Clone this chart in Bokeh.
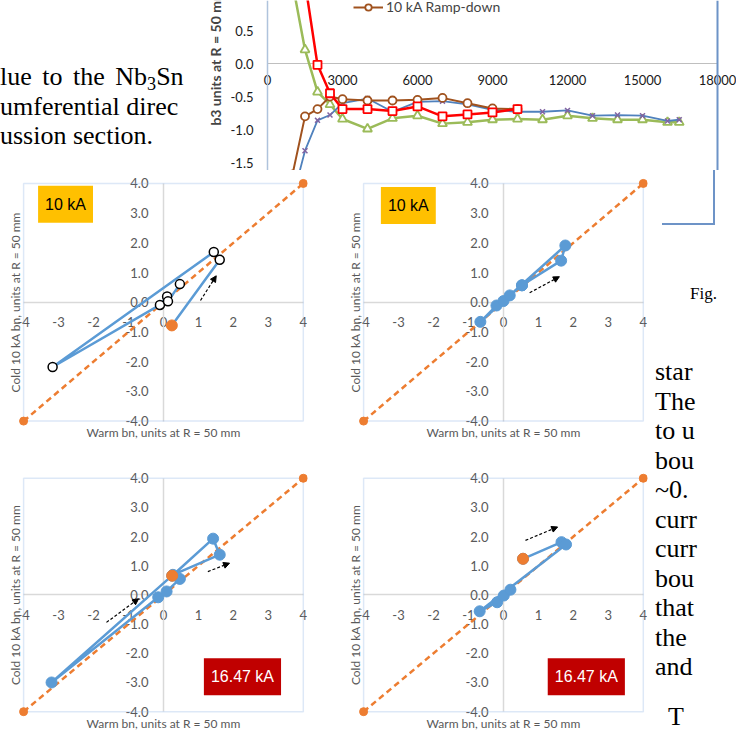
from math import pi
from bokeh.plotting import figure
from bokeh.models import (Range1d, FixedTicker, PrintfTickFormatter, Label, Legend,
                          LegendItem, Arrow, NormalHead, Div, Span, BoxAnnotation)
from bokeh.layouts import row, column
from bokeh.embed import file_html
from bokeh.resources import INLINE

# ---------------- top chart (b3 vs current) ----------------
top_x_ticks = [0, 3000, 6000, 9000, 12000, 15000, 18000]
top_y_ticks = [-1.5, -1.0, -0.5, 0.0, 0.5]
cur_a = [1000, 1500, 2000, 2500, 3000, 4000, 5000, 6000, 7000, 8000, 9000, 10000,
         11000, 12000, 13000, 14000, 15000, 16000, 16470]
b3_up_1647 = [-2.05, -1.32, -0.86, -0.78, -0.60, -0.53, -0.73, -0.58, -0.57, -0.62, -0.70,
              -0.73, -0.73, -0.71, -0.79, -0.78, -0.79, -0.87, -0.85]
b3_dn_1647 = [1.22, 0.21, -0.43, -0.62, -0.84, -0.99, -0.83, -0.79, -0.91, -0.89, -0.85,
              -0.84, -0.85, -0.79, -0.83, -0.85, -0.85, -0.89, -0.89]
cur_b = [1500, 2000, 2500, 3000, 4000, 5000, 6000, 7000, 8000, 9000, 10000]
b3_up_10 = [1.23, -0.02, -0.45, -0.69, -0.69, -0.72, -0.65, -0.80, -0.77, -0.74, -0.69]
cur_c = [1000, 1500, 2000, 2500, 3000, 4000, 5000, 6000, 7000, 8000, 9000, 10000]
b3_dn_10 = [-1.68, -0.80, -0.69, -0.50, -0.54, -0.56, -0.56, -0.55, -0.52, -0.60, -0.68, -0.69]
top_legend_label = "10 kA Ramp-down"
top_y_title = "b3 units at R = 50 mm"

# ---------------- scatter panels (cold vs warm bn) ----------------
axis_ticks = [-4, -3, -2, -1, 0, 1, 2, 3, 4]
diag_x = [-4.0, 4.0]
diag_y = [-4.0, 4.0]
p1_warm = [0.24, 1.61, 1.44, -3.17, -0.10, 0.105, 0.13, 0.47]
p1_cold = [-0.78, 1.43, 1.69, -2.18, -0.09, 0.195, 0.03, 0.61]
p2_warm = [0.53, 1.65, 1.77, -0.66, -0.20, 0.0, 0.18, 0.53]
p2_cold = [0.57, 1.40, 1.91, -0.66, -0.11, 0.04, 0.23, 0.57]
p3_warm = [0.25, 1.42, 1.61, 0.27, -3.20, -0.15, 0.09, 0.47]
p3_cold = [0.66, 1.93, 1.38, 0.69, -3.00, -0.08, 0.12, 0.55]
p4_warm = [0.56, 1.66, 1.79, -0.68, -0.18, 0.01, 0.20]
p4_cold = [1.24, 1.81, 1.73, -0.56, -0.25, -0.02, 0.18]
x_title = "Warm bn, units at R = 50 mm"
y_title = "Cold 10 kA bn, units at R = 50 mm"
tag_10 = "10 kA"
tag_16 = "16.47 kA"
# arrow annotations (x_start, y_start, x_end, y_end)
arrows_p1 = [(1.06, 0.06, 1.51, 0.89)]
arrows_p2 = [(0.75, 0.32, 1.60, 0.86)]
arrows_p3 = [(-1.63, -0.94, -0.71, -0.13), (1.27, 0.80, 1.89, 1.09)]
arrows_p4 = [(0.63, 1.87, 1.55, 2.33)]

SANS = "Lato"
BLUE = "#5B9BD5"
ORANGE = "#ED7D31"
GREY_TXT = "#595959"

# ---------------- top figure ----------------
top = figure(width=548, height=170, x_range=Range1d(-3160, 18760), y_range=Range1d(-1.62, 0.955),
             output_backend="svg", toolbar_location=None, min_border_left=0,
             min_border_right=0, min_border_top=0, min_border_bottom=0)
top.xgrid.visible = False
top.ygrid.visible = False
top.outline_line_color = None
top.xaxis.fixed_location = 0
top.yaxis.fixed_location = 0
top.xaxis.bounds = (0, 18000)
top.xaxis.ticker = FixedTicker(ticks=top_x_ticks)
top.yaxis.ticker = FixedTicker(ticks=top_y_ticks)
top.yaxis.formatter = PrintfTickFormatter(format="%.1f")
top.xaxis.formatter = PrintfTickFormatter(format="%d")
for ax in (top.xaxis[0], top.yaxis[0]):
    ax.major_tick_line_color = None
    ax.minor_tick_line_color = None
    ax.major_tick_out = 0
    ax.major_tick_in = 0
    ax.major_label_text_font = SANS
    ax.major_label_text_font_size = "13px"
    ax.major_label_text_color = "#1a1a1a"
    ax.level = "underlay"
top.xaxis.axis_line_color = "#BFBFBF"
top.xaxis.axis_line_width = 1.2
top.xaxis.major_label_standoff = 11
top.yaxis.axis_line_color = "#AFC3DC"
top.yaxis.axis_line_width = 1.5
top.yaxis.major_label_standoff = 14

top.line(cur_a, b3_dn_1647, line_color="#9BBB59", line_width=2.5)
top.scatter(cur_a, b3_dn_1647, marker="triangle", size=9, line_color="#9BBB59",
            fill_color="white", line_width=1.8)
top.line(cur_a, b3_up_1647, line_color="#4F81BD", line_width=1.8)
top.scatter(cur_a, b3_up_1647, marker="x", size=7, line_color="#8064A2", line_width=1.5)
brown_line = top.line(cur_c, b3_dn_10, line_color="#A0521E", line_width=2)
brown_pts = top.scatter(cur_c, b3_dn_10, marker="circle", size=8, line_color="#A0521E",
                        fill_color="white", line_width=1.8)
top.line(cur_b, b3_up_10, line_color="#FF0000", line_width=2.5)
top.scatter(cur_b, b3_up_10, marker="square", size=8, line_color="#FF0000",
            fill_color="white", line_width=1.8)
top.add_layout(Span(location=18000, dimension="height", line_color="#6D93C7", line_width=2))

legend = Legend(items=[LegendItem(label=top_legend_label, renderers=[brown_line, brown_pts])],
                location=(165, 155), background_fill_alpha=0, border_line_color=None,
                padding=0, margin=0, glyph_width=30, glyph_height=16, label_height=16,
                label_standoff=3, label_text_font=SANS, label_text_font_size="14px")
top.add_layout(legend)
top.add_layout(Label(x=-2080, y=-0.94, angle=pi / 2, text=top_y_title, text_font=SANS,
                     text_font_style="bold", text_font_size="14px", text_align="left",
                     text_baseline="middle"))


def panel(warm, cold, marker_style, first_orange, tag, tag_bg, tag_fg, tag_xy, arrows,
          width, height, right_border, bottom_border, y_low, title_y):
    p = figure(width=width, height=height, x_range=Range1d(-4.46, 4.12),
               y_range=Range1d(y_low, 4.3), output_backend="svg", toolbar_location=None,
               min_border_left=7, min_border_right=right_border, min_border_top=4,
               min_border_bottom=bottom_border)
    p.xgrid.visible = False
    p.ygrid.visible = False
    p.outline_line_color = None
    p.xaxis.fixed_location = 0
    p.yaxis.fixed_location = 0
    p.xaxis.bounds = (-4, 4)
    p.yaxis.bounds = (-4, 4)
    p.xaxis.ticker = FixedTicker(ticks=axis_ticks)
    p.yaxis.ticker = FixedTicker(ticks=axis_ticks)
    p.xaxis.formatter = PrintfTickFormatter(format="%d")
    p.yaxis.formatter = PrintfTickFormatter(format="%.1f")
    for ax in (p.xaxis[0], p.yaxis[0]):
        ax.major_tick_line_color = None
        ax.minor_tick_line_color = None
        ax.major_tick_out = 0
        ax.major_tick_in = 0
        ax.axis_line_color = "#D9D9D9"
        ax.axis_line_width = 1.5
        ax.major_label_text_font = SANS
        ax.major_label_text_font_size = "13px"
        ax.major_label_text_color = GREY_TXT
        ax.major_label_standoff = 15
        ax.level = "underlay"
    p.add_layout(BoxAnnotation(left=-4, right=4, bottom=-4, top=4, fill_alpha=0,
                               fill_color=None, line_color="#8EB4E3", line_width=1.5,
                               level="underlay"))
    p.add_layout(Label(x=0, y=title_y, text=x_title, text_font=SANS, text_font_size="12px",
                       text_color=GREY_TXT, text_align="center", text_baseline="middle"))
    p.add_layout(Label(x=-4.23, y=0, angle=pi / 2, text=y_title, text_font=SANS,
                       text_font_size="12px", text_color=GREY_TXT, text_align="center",
                       text_baseline="middle"))

    p.line(diag_x, diag_y, line_color=ORANGE, line_width=2.5, line_dash="6 4")
    p.scatter(diag_x, diag_y, size=8, fill_color=ORANGE, line_color=ORANGE)
    p.line(warm, cold, line_color=BLUE, line_width=2.5)
    if marker_style == "open":
        p.scatter(warm[1:], cold[1:], size=9, fill_color="white", line_color="black", line_width=1.5)
    else:
        p.scatter(warm, cold, size=11, fill_color=BLUE, line_color=BLUE)
    if first_orange:
        p.scatter(warm[:1], cold[:1], size=11, fill_color=ORANGE, line_color=ORANGE)
    for (xs, ys, xe, ye) in arrows:
        p.add_layout(Arrow(x_start=xs, y_start=ys, x_end=xe, y_end=ye, line_color="black",
                           line_width=1.2, line_dash="3 2",
                           end=NormalHead(size=6, fill_color="black", line_color="black")))
    p.add_layout(Label(x=tag_xy[0], y=tag_xy[1], text=tag, text_font="Liberation Sans",
                       text_font_size="16px", text_color=tag_fg, text_align="center",
                       text_baseline="middle", background_fill_color=tag_bg,
                       padding=(7, 10)))
    return p


p1 = panel(p1_warm, p1_cold, "open", True, tag_10, "#FFC000", "black", (-2.8, 3.3), arrows_p1,
           340, 295, 33, 26, -4.62, -4.375)
p2 = panel(p2_warm, p2_cold, "filled", False, tag_10, "#FFC000", "black", (-2.72, 3.26),
           arrows_p2, 310, 295, 3, 26, -4.62, -4.375)
p3 = panel(p3_warm, p3_cold, "filled", True, tag_16, "#C00000", "white", (2.26, -2.8),
           arrows_p3, 340, 267, 33, 1, -4.68, -4.41)
p4 = panel(p4_warm, p4_cold, "filled", True, tag_16, "#C00000", "white", (2.37, -2.8),
           arrows_p4, 310, 267, 3, 1, -4.68, -4.41)

left_text = ("<div style=\"width:188px;height:170px;overflow:hidden;box-sizing:border-box;"
             "padding-top:62px;font-family:'Liberation Serif';font-size:26px;line-height:29.5px;"
             "color:#000;white-space:nowrap;\">"
             "<span style=\"word-spacing:4px\">lue to the Nb<span style=\"font-size:0.7em;"
             "vertical-align:-0.25em;line-height:0\">3</span>Sn</span><br>"
             "umferential direc<br>ussion section.</div>")
left_div = Div(text=left_text, width=188, height=170, margin=0)

right_lines = ["star", "The", "to u", "bou", "~0.", "curr", "curr", "bou", "that", "the", "and"]
right_text = ("<div style=\"position:relative;width:86px;height:562px;overflow:hidden;"
              "font-family:'Liberation Serif';color:#000;\">"
              "<div style=\"position:absolute;left:12px;top:0;width:53px;height:55px;"
              "border-right:2px solid #6D93C7;border-bottom:2px solid #6D93C7;\"></div>"
              "<div style=\"position:absolute;left:40px;top:112px;font-size:17px;"
              "line-height:24px;\">Fig.</div>"
              "<div style=\"position:absolute;left:5px;top:187px;font-size:26px;"
              "line-height:29.5px;white-space:nowrap;\">" + "<br>".join(right_lines) + "</div>"
              "<div style=\"position:absolute;left:18px;top:532px;font-size:26px;"
              "line-height:29.5px;\">T</div></div>")
right_div = Div(text=right_text, width=86, height=562, margin=0)

layout = column(row(left_div, top), row(column(row(p1, p2), row(p3, p4)), right_div))

with open("out.html", "w") as f:
    f.write(file_html(layout, INLINE, title="chart"))
